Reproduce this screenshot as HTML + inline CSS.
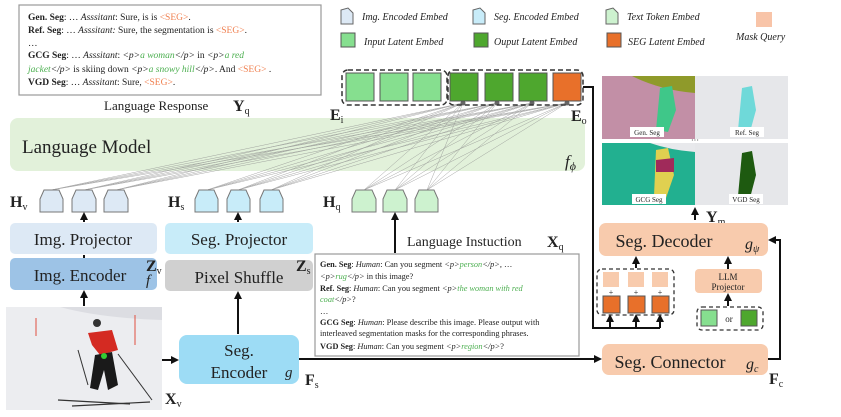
<!DOCTYPE html>
<html><head><meta charset="utf-8"><style>
html,body{margin:0;padding:0;background:#fff}
svg{display:block}
text{font-family:"Liberation Serif",serif;fill:#222}
.it{font-style:italic}
.b{font-weight:bold}
</style></head><body>
<svg width="841" height="417" viewBox="0 0 841 417" xmlns="http://www.w3.org/2000/svg">
<defs>
<marker id="ar" markerWidth="8" markerHeight="8" refX="6" refY="4" orient="auto" markerUnits="userSpaceOnUse"><path d="M0,0 L8,4 L0,8 z" fill="#111"/></marker>
</defs>

<!-- top-left response box -->
<rect x="19" y="5" width="302" height="90" fill="#fff" stroke="#999" stroke-width="1.2"/>
<g font-size="9.5">
<text x="28" y="20"><tspan class="b">Gen. Seg</tspan>: … <tspan class="it">Asssitant</tspan>: Sure, is is <tspan fill="#f08050">&lt;SEG&gt;</tspan>.</text>
<text x="28" y="33"><tspan class="b">Ref. Seg</tspan>: … <tspan class="it">Asssitant:</tspan> Sure, the segmentation is <tspan fill="#f08050">&lt;SEG&gt;</tspan>.</text>
<text x="28" y="46">…</text>
<text x="28" y="58"><tspan class="b">GCG Seg</tspan>: … <tspan class="it">Asssitant</tspan>: <tspan class="it">&lt;p&gt;</tspan><tspan class="it" fill="#4caf50">a woman</tspan><tspan class="it">&lt;/p&gt;</tspan>  in <tspan class="it">&lt;p&gt;</tspan><tspan class="it" fill="#4caf50">a red</tspan></text>
<text x="28" y="72"><tspan class="it" fill="#4caf50">jacket</tspan><tspan class="it">&lt;/p&gt;</tspan> is skiing down <tspan class="it">&lt;p&gt;</tspan><tspan class="it" fill="#4caf50">a snowy hill</tspan><tspan class="it">&lt;/p&gt;</tspan>.  And <tspan fill="#f08050">&lt;SEG&gt;</tspan> .</text>
<text x="28" y="85"><tspan class="b">VGD Seg</tspan>: … <tspan class="it">Asssitant</tspan>: Sure, <tspan fill="#f08050">&lt;SEG&gt;</tspan>.</text>
</g>
<text x="104" y="110" font-size="13">Language Response</text>
<text x="233" y="111" font-size="16" class="b">Y<tspan font-size="10" font-weight="normal" dy="3">q</tspan></text>

<!-- legend -->
<g font-size="10" class="it">
<path d="M341,10 L348,8 L353,13 L353,24 L341,24 Z" fill="#dde9f5" stroke="#666"/>
<text x="362" y="20" class="it">Img. Encoded Embed</text>
<path d="M473,10 L480,8 L485,13 L485,24 L473,24 Z" fill="#c8ecf9" stroke="#666"/>
<text x="494" y="20" class="it">Seg. Encoded Embed</text>
<path d="M606,10 L613,8 L618,13 L618,24 L606,24 Z" fill="#cdf2cf" stroke="#666"/>
<text x="627" y="20" class="it">Text Token Embed</text>
<rect x="756" y="12" width="16" height="15" fill="#f8c4a8"/>
<text x="736" y="40" class="it">Mask Query</text>
<rect x="341" y="33" width="14" height="14" fill="#86df8f" stroke="#555"/>
<text x="364" y="45" class="it">Input Latent Embed</text>
<rect x="474" y="33" width="14" height="14" fill="#4ea72e" stroke="#555"/>
<text x="494" y="45" class="it">Ouput Latent Embed</text>
<rect x="607" y="33" width="14" height="14" fill="#e8702a" stroke="#555"/>
<text x="628" y="45" class="it">SEG Latent Embed</text>
</g>

<!-- language model -->
<rect x="10" y="118" width="575" height="53" rx="8" fill="#e2f1da"/>
<text x="22" y="153" font-size="19">Language Model</text>
<text x="565" y="167" font-size="17" class="it">f<tspan font-size="12" dy="3">ϕ</tspan></text>

<!-- connection lines -->
<g stroke="#8a8a8a" stroke-width="0.5" opacity="0.75">
<line x1="51" y1="190" x2="463" y2="103"/><line x1="51" y1="190" x2="497" y2="103"/><line x1="51" y1="190" x2="532" y2="103"/><line x1="51" y1="190" x2="567" y2="103"/>
<line x1="84" y1="190" x2="463" y2="103"/><line x1="84" y1="190" x2="497" y2="103"/><line x1="84" y1="190" x2="532" y2="103"/><line x1="84" y1="190" x2="567" y2="103"/>
<line x1="116" y1="190" x2="463" y2="103"/><line x1="116" y1="190" x2="497" y2="103"/><line x1="116" y1="190" x2="532" y2="103"/><line x1="116" y1="190" x2="567" y2="103"/>
<line x1="207" y1="190" x2="463" y2="103"/><line x1="207" y1="190" x2="497" y2="103"/><line x1="207" y1="190" x2="532" y2="103"/><line x1="207" y1="190" x2="567" y2="103"/>
<line x1="238" y1="190" x2="463" y2="103"/><line x1="238" y1="190" x2="497" y2="103"/><line x1="238" y1="190" x2="532" y2="103"/><line x1="238" y1="190" x2="567" y2="103"/>
<line x1="271" y1="190" x2="463" y2="103"/><line x1="271" y1="190" x2="497" y2="103"/><line x1="271" y1="190" x2="532" y2="103"/><line x1="271" y1="190" x2="567" y2="103"/>
<line x1="364" y1="190" x2="463" y2="103"/><line x1="364" y1="190" x2="497" y2="103"/><line x1="364" y1="190" x2="532" y2="103"/><line x1="364" y1="190" x2="567" y2="103"/>
<line x1="395" y1="190" x2="463" y2="103"/><line x1="395" y1="190" x2="497" y2="103"/><line x1="395" y1="190" x2="532" y2="103"/><line x1="395" y1="190" x2="567" y2="103"/>
<line x1="427" y1="190" x2="463" y2="103"/><line x1="427" y1="190" x2="497" y2="103"/><line x1="427" y1="190" x2="532" y2="103"/><line x1="427" y1="190" x2="567" y2="103"/>
</g>
<g fill="#666"><circle cx="463" cy="103" r="2.5"/><circle cx="497" cy="103" r="2.5"/><circle cx="532" cy="103" r="2.5"/><circle cx="567" cy="103" r="2.5"/></g>

<!-- token row -->
<rect x="342" y="70" width="105" height="35" rx="6" fill="none" stroke="#333" stroke-width="1.5" stroke-dasharray="5,3"/>
<rect x="448" y="70" width="135" height="35" rx="6" fill="none" stroke="#333" stroke-width="1.5" stroke-dasharray="5,3"/>
<g stroke="#555" stroke-width="1">
<rect x="346" y="73" width="28" height="28" fill="#86df8f"/>
<rect x="380" y="73" width="28" height="28" fill="#86df8f"/>
<rect x="413" y="73" width="28" height="28" fill="#86df8f"/>
<rect x="450" y="73" width="28" height="28" fill="#4ea72e"/>
<rect x="485" y="73" width="28" height="28" fill="#4ea72e"/>
<rect x="519" y="73" width="28" height="28" fill="#4ea72e"/>
<rect x="553" y="73" width="28" height="28" fill="#e8702a"/>
</g>
<text x="330" y="120" font-size="16" class="b">E<tspan font-size="10" font-weight="normal" dy="3">i</tspan></text>
<text x="571" y="121" font-size="16" class="b">E<tspan font-size="10" font-weight="normal" dy="3">o</tspan></text>

<!-- black line from SEG to decoder input -->
<polyline points="583,87 593,87 593,328 660,328" fill="none" stroke="#111" stroke-width="2"/>
<line x1="610" y1="328" x2="610" y2="316" stroke="#111" stroke-width="2" marker-end="url(#ar)"/>
<line x1="636" y1="328" x2="636" y2="316" stroke="#111" stroke-width="2" marker-end="url(#ar)"/>
<line x1="660" y1="328" x2="660" y2="316" stroke="#111" stroke-width="2" marker-end="url(#ar)"/>

<!-- trapezoids -->
<g stroke="#777" stroke-width="1">
<path d="M40,212 L40,199 L44,190 L59,190 L63,199 L63,212 Z" fill="#dde9f5"/>
<path d="M72,212 L72,199 L76,190 L92,190 L96,199 L96,212 Z" fill="#dde9f5"/>
<path d="M104,212 L104,199 L108,190 L124,190 L128,199 L128,212 Z" fill="#dde9f5"/>
<path d="M195,212 L195,199 L199,190 L214,190 L218,199 L218,212 Z" fill="#c8ecf9"/>
<path d="M227,212 L227,199 L231,190 L246,190 L250,199 L250,212 Z" fill="#c8ecf9"/>
<path d="M260,212 L260,199 L264,190 L279,190 L283,199 L283,212 Z" fill="#c8ecf9"/>
<path d="M352,212 L352,199 L356,190 L372,190 L376,199 L376,212 Z" fill="#cdf2cf"/>
<path d="M383,212 L383,199 L387,190 L403,190 L407,199 L407,212 Z" fill="#cdf2cf"/>
<path d="M415,212 L415,199 L419,190 L434,190 L438,199 L438,212 Z" fill="#cdf2cf"/>
</g>
<text x="10" y="207" font-size="16" class="b">H<tspan font-size="10" font-weight="normal" dy="3">v</tspan></text>
<text x="168" y="207" font-size="16" class="b">H<tspan font-size="10" font-weight="normal" dy="3">s</tspan></text>
<text x="323" y="207" font-size="16" class="b">H<tspan font-size="10" font-weight="normal" dy="3">q</tspan></text>

<!-- left boxes -->
<rect x="10" y="223" width="147" height="31" rx="5" fill="#dde9f5"/>
<text x="83" y="245" font-size="17" text-anchor="middle">Img. Projector</text>
<rect x="10" y="258" width="147" height="32" rx="5" fill="#9dc3e6"/>
<text x="80" y="281" font-size="17" text-anchor="middle">Img. Encoder</text>
<text x="146" y="285" font-size="15" class="it">f</text>
<text x="146" y="271" font-size="16" class="b">Z<tspan font-size="10" font-weight="normal" dy="3">v</tspan></text>
<rect x="165" y="223" width="148" height="31" rx="5" fill="#c8ecf9"/>
<text x="239" y="245" font-size="17" text-anchor="middle">Seg. Projector</text>
<rect x="165" y="260" width="148" height="31" rx="5" fill="#d0d0d0"/>
<text x="239" y="283" font-size="17" text-anchor="middle">Pixel Shuffle</text>
<text x="296" y="271" font-size="16" class="b">Z<tspan font-size="10" font-weight="normal" dy="3">s</tspan></text>

<!-- arrows vertical -->
<g stroke="#111" stroke-width="2">
<line x1="84" y1="306" x2="84" y2="292" marker-end="url(#ar)"/>
<line x1="84" y1="255" x2="84" y2="258"/>
<line x1="84" y1="222" x2="84" y2="214" marker-end="url(#ar)"/>
<line x1="238" y1="334" x2="238" y2="293" marker-end="url(#ar)"/>
<line x1="238" y1="222" x2="238" y2="214" marker-end="url(#ar)"/>
<line x1="395" y1="253" x2="395" y2="214" marker-end="url(#ar)"/>
<line x1="162" y1="360" x2="177" y2="360" marker-end="url(#ar)"/>
<line x1="299" y1="359" x2="600" y2="359" marker-end="url(#ar)"/>
<line x1="695" y1="220" x2="695" y2="209" marker-end="url(#ar)"/>
<line x1="636" y1="268" x2="636" y2="258" marker-end="url(#ar)"/>
<line x1="728" y1="306" x2="728" y2="295" marker-end="url(#ar)"/>
<line x1="728" y1="269" x2="728" y2="258" marker-end="url(#ar)"/>
</g>
<polyline points="768,359 780,359 780,240 770,240" fill="none" stroke="#111" stroke-width="2" marker-end="url(#ar)"/>

<!-- skier image -->
<rect x="6" y="307" width="156" height="103" fill="#ecedf0"/>
<path d="M6,307 L60,307 Q100,318 162,320 L162,307 Z" fill="#dcdde2"/>
<line x1="36" y1="318" x2="36" y2="336" stroke="#e05040" stroke-width="1"/>
<line x1="135" y1="315" x2="135" y2="345" stroke="#e05040" stroke-width="1"/>
<circle cx="97" cy="323" r="4" fill="#333"/>
<path d="M88,333 L112,330 L118,350 L100,355 L92,345 Z" fill="#d42a22"/>
<path d="M95,355 L112,352 L118,385 L108,390 L104,370 L98,390 L90,388 Z" fill="#1a1a1a"/>
<line x1="78" y1="350" x2="88" y2="385" stroke="#333" stroke-width="1"/>
<line x1="118" y1="354" x2="152" y2="400" stroke="#333" stroke-width="1"/>
<line x1="58" y1="400" x2="130" y2="404" stroke="#333" stroke-width="1.2"/>
<line x1="72" y1="406" x2="150" y2="402" stroke="#333" stroke-width="1.2"/>
<circle cx="104" cy="356" r="3" fill="#3c3"/>
<text x="165" y="404" font-size="16" class="b">X<tspan font-size="10" font-weight="normal" dy="3">v</tspan></text>

<!-- Seg encoder -->
<rect x="179" y="335" width="120" height="49" rx="8" fill="#9ddcf5"/>
<text x="239" y="356" font-size="17" text-anchor="middle">Seg.</text>
<text x="239" y="378" font-size="17" text-anchor="middle">Encoder</text>
<text x="285" y="377" font-size="15" class="it">g</text>
<text x="305" y="385" font-size="16" class="b">F<tspan font-size="10" font-weight="normal" dy="3">s</tspan></text>

<!-- Language instruction -->
<text x="407" y="246" font-size="14">Language Instuction</text>
<text x="547" y="247" font-size="16" class="b">X<tspan font-size="10" font-weight="normal" dy="3">q</tspan></text>
<rect x="315" y="254" width="264" height="102" fill="#fff" stroke="#999" stroke-width="1.2"/>
<g font-size="8.3">
<text x="320" y="267"><tspan class="b">Gen. Seg</tspan>: <tspan class="it">Human</tspan>: Can you segment <tspan class="it">&lt;p&gt;</tspan><tspan class="it" fill="#4caf50">person</tspan><tspan class="it">&lt;/p&gt;</tspan>, …</text>
<text x="320" y="279"><tspan class="it">&lt;p&gt;</tspan><tspan class="it" fill="#4caf50">rug</tspan><tspan class="it">&lt;/p&gt;</tspan> in this image?</text>
<text x="320" y="291"><tspan class="b">Ref. Seg</tspan>: <tspan class="it">Human</tspan>: Can you segment <tspan class="it">&lt;p&gt;</tspan><tspan class="it" fill="#4caf50">the woman with red</tspan></text>
<text x="320" y="302"><tspan class="it" fill="#4caf50">coat</tspan><tspan class="it">&lt;/p&gt;</tspan>?</text>
<text x="320" y="314">…</text>
<text x="320" y="325"><tspan class="b">GCG Seg</tspan>: <tspan class="it">Human</tspan>: Please describe this image. Please output with</text>
<text x="320" y="336">interleaved segmentation masks for the corresponding phrases.</text>
<text x="320" y="349"><tspan class="b">VGD Seg</tspan>: <tspan class="it">Human</tspan>: Can you segment <tspan class="it">&lt;p&gt;</tspan><tspan class="it" fill="#4caf50">region</tspan><tspan class="it">&lt;/p&gt;</tspan>?</text>
</g>

<!-- result images -->
<rect x="602" y="76" width="93" height="63" fill="#c28fa6"/>
<path d="M632,76 L695,76 L695,93 Q660,90 632,76 Z" fill="#8f9a2a"/>
<path d="M660,88 L672,86 L676,110 L668,132 L656,130 Z" fill="#3fc789"/>
<rect x="695" y="76" width="93" height="63" fill="#e6e7ea"/>
<path d="M742,88 L752,86 L756,110 L750,132 L738,130 Z" fill="#6fd9d9"/>
<rect x="602" y="143" width="93" height="62" fill="#22b090"/>
<path d="M602,143 L650,143 Q675,150 695,150 L695,205 L602,205 Z" fill="#22b090"/>
<path d="M650,143 L695,143 L695,152 Q670,150 650,143 Z" fill="#e8e9ec"/>
<path d="M656,150 L668,148 L674,175 L666,198 L654,196 Z" fill="#e0d050"/>
<path d="M656,160 L674,158 L674,172 L656,172 Z" fill="#a02a5a"/>
<rect x="695" y="143" width="93" height="62" fill="#e6e7ea"/>
<path d="M742,153 L752,151 L756,175 L750,198 L738,196 Z" fill="#1e5a10"/>
<g font-size="7" text-anchor="middle">
<rect x="630" y="127" width="34" height="10" fill="#fff"/><text x="647" y="135">Gen. Seg</text>
<rect x="730" y="127" width="34" height="10" fill="#fff"/><text x="747" y="135">Ref. Seg</text>
<rect x="632" y="194" width="34" height="10" fill="#fff"/><text x="649" y="202">GCG Seg</text>
<rect x="729" y="194" width="34" height="10" fill="#fff"/><text x="746" y="202">VGD Seg</text>
<text x="695" y="143" font-size="8">···</text>
</g>
<text x="706" y="222" font-size="16" class="b">Y<tspan font-size="10" font-weight="normal" dy="3">m</tspan></text>

<!-- Seg decoder -->
<rect x="599" y="223" width="169" height="33" rx="7" fill="#f8cbad"/>
<text x="664" y="247" font-size="18" text-anchor="middle">Seg. Decoder</text>
<text x="745" y="249" font-size="16" class="it">g<tspan font-size="10" dy="3">ψ</tspan></text>

<!-- queries -->
<rect x="597" y="269" width="77" height="46" rx="5" fill="none" stroke="#333" stroke-width="1.3" stroke-dasharray="4,3"/>
<g fill="#f8cbad"><rect x="603" y="272" width="16" height="15"/><rect x="628" y="272" width="16" height="15"/><rect x="652" y="272" width="16" height="15"/></g>
<g font-size="8" fill="#555" text-anchor="middle"><text x="611" y="295">+</text><text x="636" y="295">+</text><text x="660" y="295">+</text></g>
<g fill="#e8702a" stroke="#555"><rect x="603" y="296" width="17" height="17"/><rect x="628" y="296" width="17" height="17"/><rect x="652" y="296" width="17" height="17"/></g>

<!-- LLM projector -->
<rect x="695" y="269" width="67" height="24" rx="4" fill="#f8cbad"/>
<text x="728" y="280" font-size="9" text-anchor="middle">LLM</text>
<text x="728" y="290" font-size="9" text-anchor="middle">Projector</text>
<rect x="697" y="307" width="66" height="23" rx="5" fill="none" stroke="#333" stroke-width="1.3" stroke-dasharray="4,3"/>
<rect x="701" y="310" width="16" height="16" fill="#86df8f" stroke="#555"/>
<text x="729" y="322" font-size="9" text-anchor="middle">or</text>
<rect x="741" y="310" width="16" height="16" fill="#4ea72e" stroke="#555"/>

<!-- Seg connector -->
<rect x="602" y="344" width="166" height="31" rx="7" fill="#f8cbad"/>
<text x="670" y="368" font-size="18" text-anchor="middle">Seg. Connector</text>
<text x="746" y="369" font-size="16" class="it">g<tspan font-size="10" dy="3">c</tspan></text>
<text x="769" y="384" font-size="16" class="b">F<tspan font-size="10" font-weight="normal" dy="3">c</tspan></text>
</svg>
</body></html>
